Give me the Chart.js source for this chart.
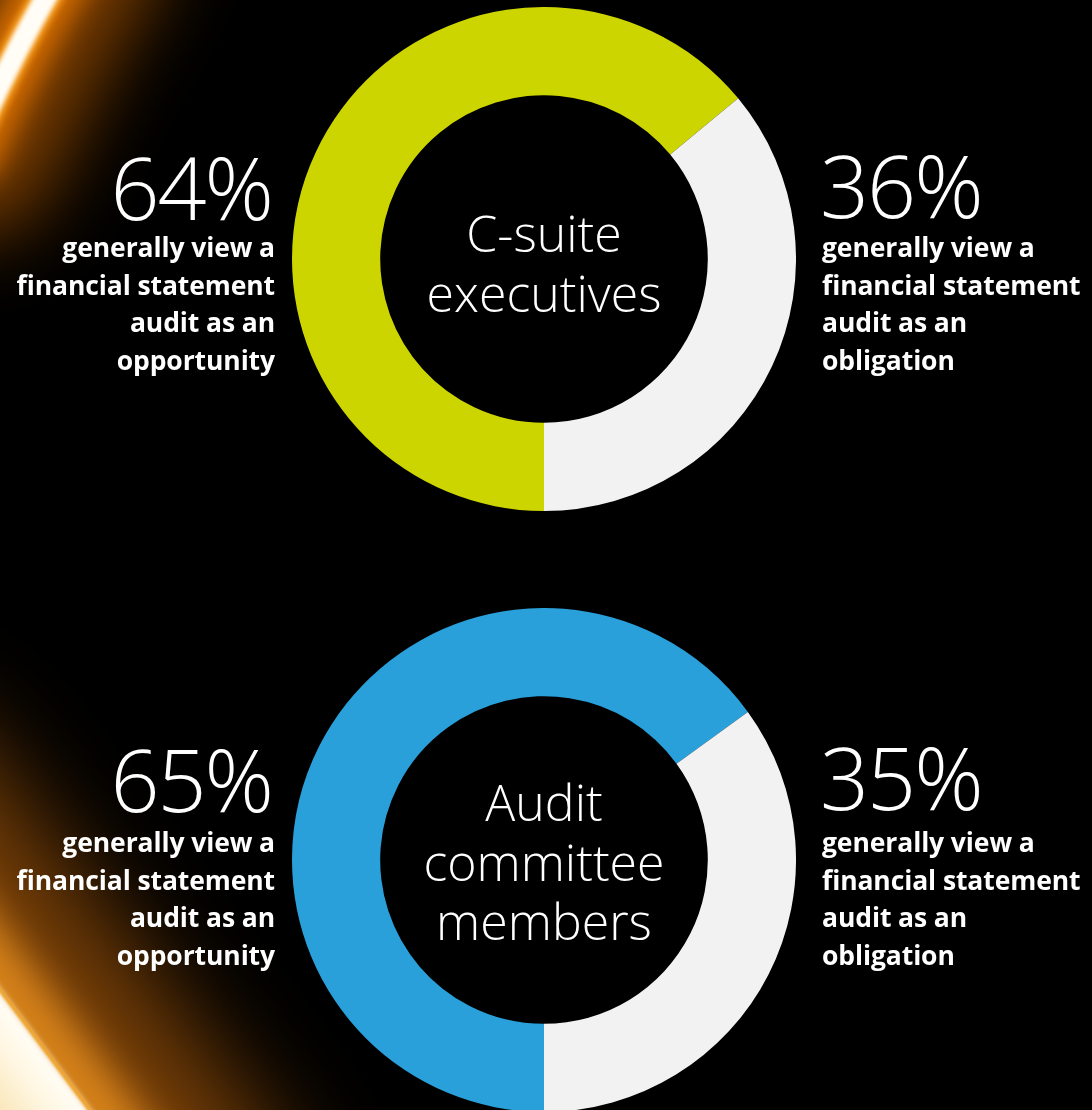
<!DOCTYPE html>
<html>
<head>
<meta charset="utf-8">
<script src="https://cdn.jsdelivr.net/npm/chart.js@4.4.1/dist/chart.umd.min.js"></script>
<style>
  html, body { margin: 0; padding: 0; background: #000; }
  body { width: 1092px; height: 1110px; position: relative; overflow: hidden; font-family: 'Open Sans', 'Noto Sans', sans-serif; color: #fff; }
  #glow { position: absolute; left: 0; top: 0; }
  .ring { position: absolute; }
  .pct { position: absolute; font-weight: 300; font-size: 86px; line-height: 86px; white-space: nowrap; letter-spacing: -2px; }
  .desc { position: absolute; font-weight: 700; font-size: 26.5px; line-height: 37.7px; white-space: nowrap; letter-spacing: -0.1px; }
  .left { text-align: right; }
  .right { text-align: left; }
  .center { position: absolute; font-weight: 300; font-size: 50px; line-height: 59.5px; text-align: center; width: 320px; white-space: nowrap; }
</style>
</head>
<body>
<canvas id="glow" width="1092" height="1110"></canvas>

<script>
// Survey results: share of each group that sees the audit as an opportunity / an obligation
const groups = ['C-suite executives', 'Audit committee members'];
const centerLines = [['C-suite', 'executives'], ['Audit', 'committee', 'members']];
const segmentLabels = ['opportunity', 'obligation'];
const opportunityShare = [64, 65];
const obligationShare = [36, 35];
const descLeft = ['generally view a', 'financial statement', 'audit as an', 'opportunity'];
const descRight = ['generally view a', 'financial statement', 'audit as an', 'obligation'];

const ringColors = ['#CDD500', '#29A0DA'];
const remainderColor = '#F2F2F2';

// layout of each block (page coordinates)
const layout = [
  { cx: 544, cy: 259, pctTop: 144, descTop: 229, centerTop: 204 },
  { cx: 544, cy: 860, pctTop: 736, descTop: 824, centerTop: 773 }
];
const R = 252;

// light streaks along the left edge
(function drawGlow() {
  const c = document.getElementById('glow').getContext('2d');
  function strokePath(pts, width, color, blur) {
    c.save();
    c.filter = blur ? 'blur(' + blur + 'px)' : 'none';
    c.strokeStyle = color;
    c.lineWidth = width;
    c.lineCap = 'round';
    c.beginPath();
    c.moveTo(pts[0][0], pts[0][1]);
    c.quadraticCurveTo(pts[1][0], pts[1][1], pts[2][0], pts[2][1]);
    c.stroke();
    c.restore();
  }
  // upper streak
  const top = [[80, -60], [20, 35], [-30, 150]];
  strokePath(top, 170, 'rgba(150,75,0,0.85)', 40);
  strokePath(top, 64, 'rgba(215,110,0,0.9)', 12);
  strokePath(top, 32, '#f59a1a', 3);
  strokePath(top, 22, '#fffdf6', 2);

  // lower streak: warm haze, then a bright band whose edge runs up to the left border
  const edge = [[-120, 830], [-15, 970], [170, 1217]];
  strokePath(edge, 260, 'rgba(170,90,10,0.7)', 50);
  strokePath(edge, 80, 'rgba(235,145,30,0.8)', 18);
  c.save();
  c.filter = 'blur(3px)';
  const g = c.createLinearGradient(45, 1050, -35, 1110);
  g.addColorStop(0, '#fffef8');
  g.addColorStop(0.35, '#fff6e0');
  g.addColorStop(1, '#f6dc9e');
  c.fillStyle = g;
  c.beginPath();
  c.moveTo(-20, 963);
  c.lineTo(112, 1140);
  c.lineTo(-20, 1140);
  c.closePath();
  c.fill();
  c.restore();
  c.save();
  c.filter = 'blur(1px)';
  c.strokeStyle = '#f0a21c';
  c.lineWidth = 3;
  c.beginPath();
  c.moveTo(-20, 963);
  c.lineTo(112, 1140);
  c.stroke();
  c.restore();
})();

function addText(cls, top, lines, extraStyle) {
  const d = document.createElement('div');
  d.className = cls;
  d.style.top = top + 'px';
  Object.assign(d.style, extraStyle || {});
  lines.forEach((t, i) => {
    if (i) d.appendChild(document.createElement('br'));
    d.appendChild(document.createTextNode(t));
  });
  document.body.appendChild(d);
  return d;
}

groups.forEach((name, i) => {
  const L = layout[i];
  const cv = document.createElement('canvas');
  cv.className = 'ring';
  cv.width = 2 * R;
  cv.height = 2 * R;
  cv.style.left = (L.cx - R) + 'px';
  cv.style.top = (L.cy - R) + 'px';
  cv.style.width = 2 * R + 'px';
  cv.style.height = 2 * R + 'px';
  document.body.appendChild(cv);

  new Chart(cv, {
    type: 'doughnut',
    data: {
      labels: segmentLabels,
      datasets: [{
        label: name,
        data: [opportunityShare[i], obligationShare[i]],
        backgroundColor: [ringColors[i], remainderColor],
        borderWidth: 0
      }]
    },
    options: {
      responsive: false,
      animation: false,
      rotation: 180,
      cutout: '65%',
      layout: { padding: 0 },
      plugins: { legend: { display: false }, tooltip: { enabled: false } }
    }
  });

  // percentage figures
  addText('pct left', L.pctTop, [opportunityShare[i] + '%'], { right: (1092 - 272) + 'px' });
  addText('pct right', L.pctTop - 2, [obligationShare[i] + '%'], { left: '820px' });
  // descriptions
  addText('desc left', L.descTop, descLeft, { right: (1092 - 275) + 'px' });
  addText('desc right', L.descTop, descRight, { left: '822px' });
  // group name in the hole
  addText('center', L.centerTop, centerLines[i], { left: (L.cx - 160) + 'px' });
});
</script>
</body>
</html>
